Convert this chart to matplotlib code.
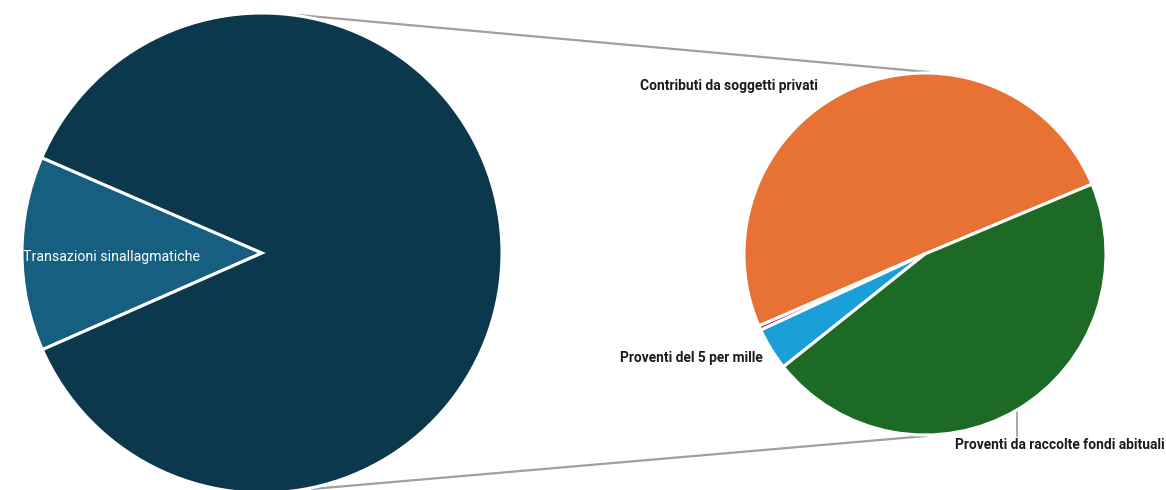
import matplotlib
matplotlib.use("Agg")
import matplotlib.pyplot as plt

# Main breakdown (left pie)
main_labels = ["Transazioni sinallagmatiche", "Altri proventi"]
main_values = [13.1, 86.9]
main_colors = ["#175f80", "#0c384d"]

# Detail of the other income (right pie)
detail_labels = ["Contributi da soggetti privati", "Altro",
                 "Proventi del 5 per mille", "Proventi da raccolte fondi abituali"]
detail_values = [50.2, 0.4, 3.8, 45.6]
detail_colors = ["#e87234", "#9a2f9a", "#1b9fd8", "#1c6a26"]

W, H = 1166, 490
fig = plt.figure(figsize=(W / 100, H / 100), dpi=100)
ax = fig.add_axes([0, 0, 1, 1])

def py(y):
    return H - y

font = ["Roboto", "DejaVu Sans"]

# connector lines between the two pies
ax.plot([298, 928], [py(15), py(72)], color="#a0a0a0", lw=1.6, zorder=1)
ax.plot([312, 926], [py(489), py(436)], color="#a0a0a0", lw=1.6, zorder=1)

wedge_style = dict(edgecolor="white", linewidth=2.2)

ax.pie(main_values, colors=main_colors, startangle=156.6, counterclock=True,
       center=(262, py(253)), radius=240, wedgeprops=wedge_style, frame=True)

ax.pie(detail_values, colors=detail_colors, startangle=22.7, counterclock=True,
       center=(925, py(254)), radius=181, wedgeprops=wedge_style, frame=True)

ax.set_xlim(0, W)
ax.set_ylim(0, H)
ax.axis("off")

ax.text(23, py(257), main_labels[0], color="white", fontsize=10.2,
        family=font, ha="left", va="center")

label_style = dict(color="#1b1b1b", fontsize=9.9, family=font, weight="bold",
                   va="center")
ax.text(818, py(86), detail_labels[0], ha="right", **label_style)
ax.text(763, py(358), detail_labels[2], ha="right", **label_style)
ax.text(955, py(445), detail_labels[3], ha="left", **label_style)

# leader line for the green slice
ax.plot([1017, 1017], [py(408), py(436)], color="#9a9a9a", lw=1.2, zorder=0)

fig.savefig("out.png", dpi=100)
